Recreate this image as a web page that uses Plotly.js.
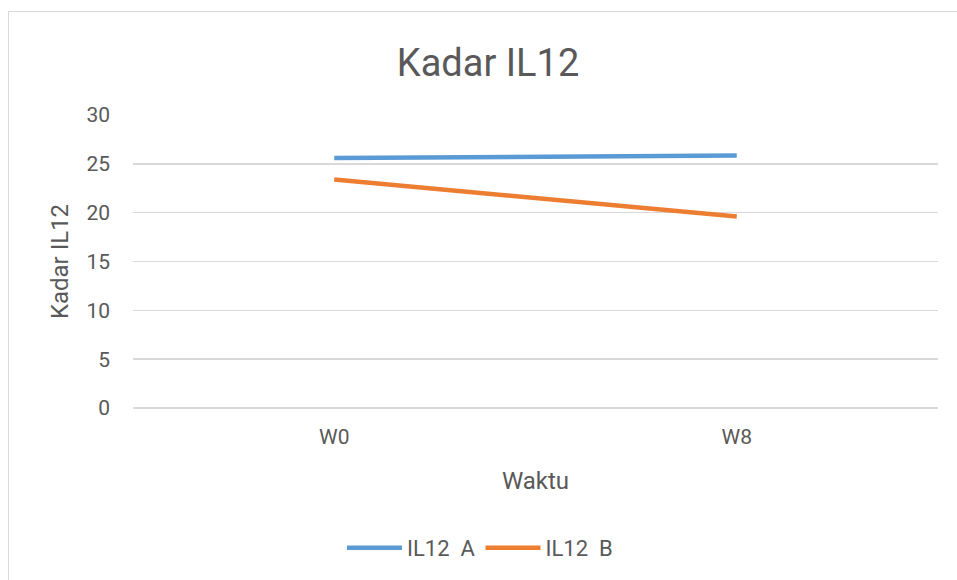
<!DOCTYPE html>
<html>
<head>
<meta charset="utf-8">
<script src="https://cdn.plot.ly/plotly-3.0.1.min.js"></script>
<style>
  html, body { margin: 0; padding: 0; background: #ffffff; overflow: hidden; }
  #frame { position: absolute; left: 8px; top: 11px; width: 2000px; height: 2000px;
           border: 1.5px solid #d9d9d9; box-sizing: border-box; }
  #chart { position: absolute; left: 0; top: 0; width: 957px; height: 580px; }
</style>
</head>
<body>
<div id="frame"></div>
<div id="chart"></div>
<script>
const categories = ['W0', 'W8'];
const seriesNames = ['IL12\u00a0 A', 'IL12\u00a0 B'];
const valuesA = [25.6, 25.85];
const valuesB = [23.4, 19.6];
const yTicks = [0, 5, 10, 15, 20, 25, 30];

const textColor = '#595959';
const gridColor = '#d9d9d9';

const traces = [
  { x: categories, y: valuesA, name: seriesNames[0], type: 'scatter', mode: 'lines',
    line: { color: '#5b9bd5', width: 4.5 } },
  { x: categories, y: valuesB, name: seriesNames[1], type: 'scatter', mode: 'lines',
    line: { color: '#ed7d31', width: 4.5 } }
];

const layout = {
  width: 957, height: 580,
  paper_bgcolor: 'rgba(0,0,0,0)',
  plot_bgcolor: 'rgba(0,0,0,0)',
  font: { family: 'Roboto, sans-serif', color: textColor, size: 20 },
  margin: { l: 133, r: 19, t: 115, b: 172 },
  title: { text: 'Kadar IL12', font: { size: 38, color: textColor },
           x: 0.51, xref: 'container', xanchor: 'center',
           y: 1 - 63 / 580, yref: 'container', yanchor: 'middle' },
  xaxis: {
    type: 'category', categoryarray: categories,
    range: [-0.5, 1.5],
    showgrid: false, zeroline: false, showline: false, ticks: '',
    ticklabelstandoff: 14,
    tickfont: { size: 21, color: textColor },
    title: { text: 'Waktu', font: { size: 24, color: textColor }, standoff: 24 }
  },
  yaxis: {
    range: [0, 30], tickvals: yTicks, ticktext: yTicks.map(String),
    showgrid: true, gridcolor: gridColor, gridwidth: 1.5,
    zeroline: true, zerolinecolor: gridColor, zerolinewidth: 1.5,
    showline: false, ticks: '', ticklabelstandoff: 22,
    tickfont: { size: 21, color: textColor },
    title: { text: 'Kadar IL12', font: { size: 24, color: textColor }, standoff: 10 }
  },
  showlegend: true,
  legend: {
    orientation: 'h', xref: 'container', yref: 'container',
    x: 480 / 957, xanchor: 'center', y: 1 - 548 / 580, yanchor: 'middle',
    font: { size: 22, color: textColor }, itemwidth: 55, traceorder: 'normal'
  }
};

Plotly.newPlot('chart', traces, layout, { displayModeBar: false, staticPlot: true });
</script>
</body>
</html>
